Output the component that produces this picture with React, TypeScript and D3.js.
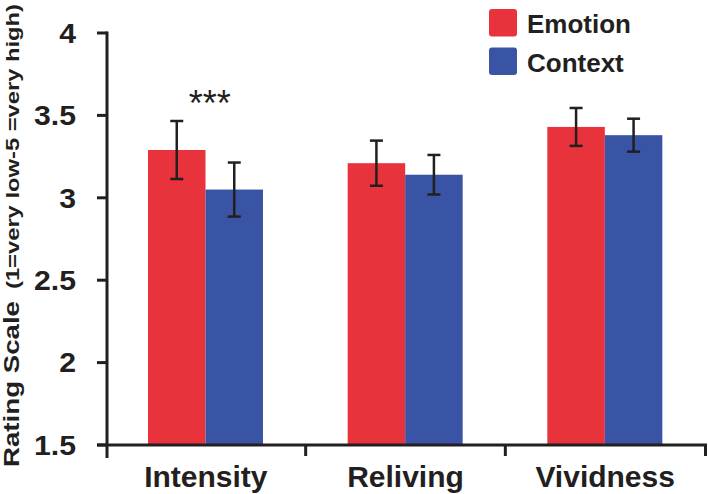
import React from "react";
import * as d3 from "d3";

const categories = ["Intensity", "Reliving", "Vividness"];
const seriesNames = ["Emotion", "Context"];
const emotionMeans = [3.29, 3.21, 3.43];
const emotionErrors = [0.176, 0.137, 0.115];
const contextMeans = [3.05, 3.14, 3.38];
const contextErrors = [0.164, 0.12, 0.1];
const yTicks = [1.5, 2, 2.5, 3, 3.5, 4];
const yTickLabels = ["1.5", "2", "2.5", "3", "3.5", "4"];
const significance = ["***", "", ""];
const yTitleMain = "Rating Scale";
const yTitleSub = "(1=very low-5 =very high)";

const colors = ["#E8333C", "#3A54A5"];
const FONT = "'Liberation Sans', Arial, Helvetica, sans-serif";

export default function App() {
  const W = 708;
  const H = 494;
  const y = d3.scaleLinear().domain([1.5, 4]).range([445, 33]);
  const x0 = d3.scaleBand<string>().domain(categories).range([106, 705]);
  const x1 = d3.scaleBand<string>().domain(seriesNames).range([42, 157]);
  const bw = x1.bandwidth();
  const data = [
    { means: emotionMeans, errs: emotionErrors },
    { means: contextMeans, errs: contextErrors },
  ];
  const axisColor = "#231F20";

  return (
    <svg width={W} height={H} style={{ position: "absolute", left: 0, top: 0 }}>
      <rect x={0} y={0} width={W} height={H} fill="#fff" />
      {/* bars */}
      {categories.map((c, i) =>
        data.map((s, j) => {
          const bx = (x0(c) as number) + (x1(seriesNames[j]) as number);
          const top = y(s.means[i]);
          return (
            <rect key={c + j} x={bx} y={top} width={bw} height={y(1.5) - top} fill={colors[j]} />
          );
        })
      )}
      {/* error bars */}
      {categories.map((c, i) =>
        data.map((s, j) => {
          const cx = (x0(c) as number) + (x1(seriesNames[j]) as number) + bw / 2;
          const hi = y(s.means[i] + s.errs[i]);
          const lo = y(s.means[i] - s.errs[i]);
          return (
            <g key={"e" + c + j} stroke={axisColor} strokeWidth={2.5}>
              <line x1={cx} x2={cx} y1={hi} y2={lo} />
              <line x1={cx - 6.5} x2={cx + 6.5} y1={hi} y2={hi} />
              <line x1={cx - 6.5} x2={cx + 6.5} y1={lo} y2={lo} />
            </g>
          );
        })
      )}
      {/* significance */}
      {categories.map((c, i) =>
        significance[i] ? (
          <text
            key={"s" + c}
            x={(x0(c) as number) + x0.bandwidth() / 2 + 4}
            y={116}
            textAnchor="middle"
            fontFamily={FONT}
            fontSize={36}
            fill={axisColor}
          >
            {significance[i]}
          </text>
        ) : null
      )}
      {/* y axis */}
      <line x1={107} x2={107} y1={y(4) - 1.5} y2={458} stroke={axisColor} strokeWidth={3} />
      {yTicks.map((t, i) => (
        <g key={"yt" + t}>
          <line x1={97} x2={107} y1={y(t)} y2={y(t)} stroke={axisColor} strokeWidth={3} />
          <text
            x={76}
            y={y(t)}
            dy="0.36em"
            textAnchor="end"
            fontFamily={FONT}
            fontWeight="bold"
            fontSize={27}
            fill={axisColor}
            transform={`translate(76 0) scale(1.12 1) translate(-76 0)`}
          >
            {yTickLabels[i]}
          </text>
        </g>
      ))}
      {/* x axis */}
      <line x1={97} x2={707} y1={445} y2={445} stroke={axisColor} strokeWidth={3} />
      {categories.map((c, i) => (
        <g key={"xt" + c}>
          {i > 0 && (
            <line
              x1={x0(c) as number}
              x2={x0(c) as number}
              y1={445}
              y2={456}
              stroke={axisColor}
              strokeWidth={3}
            />
          )}
          <text
            x={(x0(c) as number) + x0.bandwidth() / 2}
            y={487}
            textAnchor="middle"
            fontFamily={FONT}
            fontWeight="bold"
            fontSize={30}
            fill={axisColor}
          >
            {c}
          </text>
        </g>
      ))}
      <line x1={705.5} x2={705.5} y1={445} y2={456} stroke={axisColor} strokeWidth={3} />
      {/* y title */}
      <g transform="translate(19 467) rotate(-90)">
        <text
          x={0}
          y={0}
          fontFamily={FONT}
          fontWeight="bold"
          fontSize={21.5}
          fill={axisColor}
          textLength={166}
          lengthAdjust="spacingAndGlyphs"
        >
          {yTitleMain}
        </text>
        <text
          x={178}
          y={0}
          fontFamily={FONT}
          fontWeight="bold"
          fontSize={18.5}
          fill={axisColor}
          textLength={285}
          lengthAdjust="spacingAndGlyphs"
        >
          {yTitleSub}
        </text>
      </g>
      {/* legend */}
      {seriesNames.map((s, j) => (
        <g key={"lg" + s}>
          <rect x={489} y={9 + j * 38.5} width={28} height={27.5} rx={3} fill={colors[j]} />
          <text
            x={527}
            y={33 + j * 39}
            fontFamily={FONT}
            fontWeight="bold"
            fontSize={26}
            fill={axisColor}
          >
            {s}
          </text>
        </g>
      ))}
    </svg>
  );
}
